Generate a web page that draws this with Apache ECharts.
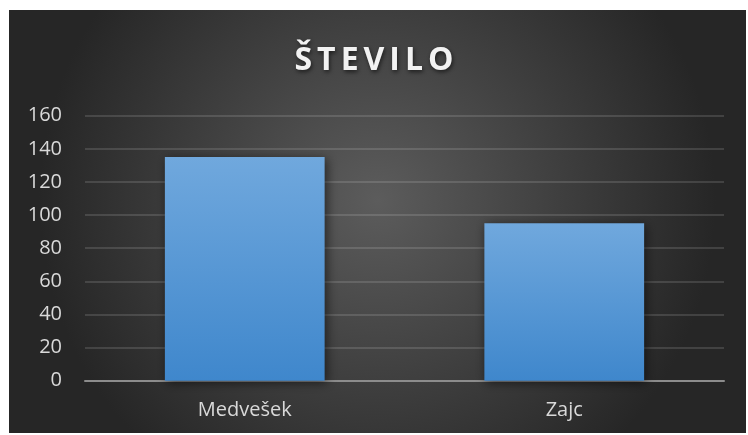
<!DOCTYPE html>
<html>
<head>
<meta charset="utf-8">
<script src="https://cdn.jsdelivr.net/npm/echarts@6/dist/echarts.min.js"></script>
<style>
html,body{margin:0;padding:0;background:#fff;}
#c{width:748px;height:435px;}
</style>
</head>
<body>
<div id="c"></div>
<script>
const titleText = 'ŠTEVILO';
const categories = ['Medvešek', 'Zajc'];
const values = [135, 95];
const yTicks = [0, 20, 40, 60, 80, 100, 120, 140, 160];

const chart = echarts.init(document.getElementById('c'), null, {renderer: 'canvas'});
const titleRich = titleText.split('').map(ch => '{c|' + ch + '}').join('');
chart.setOption({
  animation: false,
  backgroundColor: '#ffffff',
  graphic: [{
    type: 'rect',
    z: -10,
    shape: {x: 9, y: 10, width: 737, height: 423},
    style: {
      fill: new echarts.graphic.RadialGradient(0.5, 0.45, 0.8, [
        {offset: 0, color: '#5c5c5c'},
        {offset: 1, color: '#262626'}
      ])
    },
    silent: true
  }],
  title: {
    text: titleRich,
    left: 'center',
    top: 36,
    textStyle: {
      fontFamily: 'Open Sans',
      fontWeight: 'bold',
      fontSize: 32,
      color: '#f2f2f2',
      rich: {
        c: {
          fontFamily: 'Open Sans',
          fontWeight: 'bold',
          fontSize: 32,
          lineHeight: 40,
          color: '#f2f2f2',
          padding: [0, 2.5, 0, 2.5],
          textShadowColor: 'rgba(0,0,0,0.6)',
          textShadowBlur: 4,
          textShadowOffsetX: 1,
          textShadowOffsetY: 2
        }
      }
    }
  },
  grid: {left: 85, right: 24, top: 115.7, bottom: 54.3, containLabel: false},
  xAxis: {
    type: 'category',
    data: categories,
    axisLine: {lineStyle: {color: '#8c8c8c', width: 2}},
    axisTick: {show: false},
    axisLabel: {color: '#d9d9d9', fontFamily: 'Open Sans', fontSize: 20, margin: 20}
  },
  yAxis: {
    type: 'value',
    min: yTicks[0],
    max: yTicks[yTicks.length - 1],
    interval: 20,
    axisLine: {show: false},
    axisTick: {show: false},
    axisLabel: {color: '#d9d9d9', fontFamily: 'Open Sans', fontSize: 20, margin: 23},
    splitLine: {lineStyle: {color: 'rgba(255,255,255,0.13)', width: 2}}
  },
  series: [{
    type: 'bar',
    data: values,
    barWidth: '50%',
    itemStyle: {
      color: new echarts.graphic.LinearGradient(0, 0, 0, 1, [
        {offset: 0, color: '#70a8dd'},
        {offset: 1, color: '#3f87cc'}
      ]),
      shadowColor: 'rgba(0,0,0,0.55)',
      shadowBlur: 10,
      shadowOffsetX: 2,
      shadowOffsetY: 2
    }
  }]
});
</script>
</body>
</html>
